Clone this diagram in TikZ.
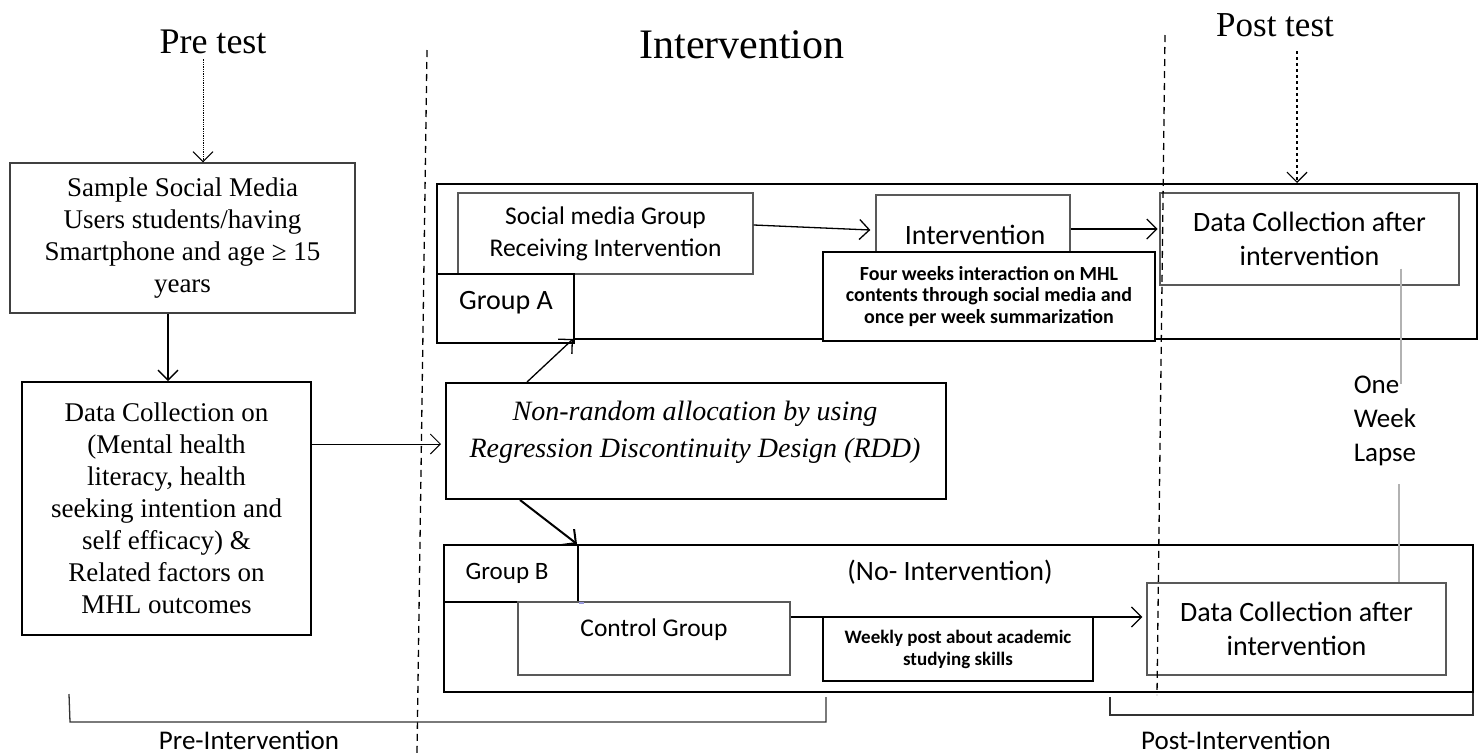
\documentclass[tikz,border=0pt]{standalone}
\usepackage{fontspec}
\setmainfont{Liberation Serif}
\newfontfamily\calib{Carlito}
\usetikzlibrary{arrows.meta,calc}
\begin{document}
\begin{tikzpicture}[x=1pt,y=-1pt,
  thickbox/.style={draw, line width=2pt, inner sep=0pt, fill=white},
  thinbox/.style={draw=black!65, line width=1.3pt, inner sep=0pt, fill=white},
  arr/.style={-{Straight Barb[length=10pt,width=20pt]}, line width=1.3pt},
  tnr/.style={font=\fontsize{27}{32}\selectfont, align=center},
  cal/.style={font=\calib\fontsize{26}{32}\selectfont, align=center},
  calb/.style={font=\calib\bfseries\fontsize{20}{21.5}\selectfont, align=center},
  title/.style={font=\fontsize{36}{40}\selectfont},
  phase/.style={line width=1.3pt, dash pattern=on 7pt off 5pt},
  lapseline/.style={draw=black!30, line width=1.5pt},
  bracket/.style={line width=1.3pt, draw=black!80}]
\useasboundingbox (0,0) rectangle (1483,753);

% titles
\node[title] (pretest) at (213,42) {Pre test};
\node[font=\fontsize{42}{46}\selectfont] (intvtitle) at (742,45) {Intervention};
\node[font=\fontsize{35}{40}\selectfont] (posttest) at (1275,25) {Post test};

% left column
\node[thinbox, draw=black!75, minimum width=345pt, minimum height=150pt, tnr] (s1) at (182.5,238)
  {Sample Social Media\\Users students/having\\Smartphone and age ≥ 15\\years};
\node[thickbox, minimum width=289pt, minimum height=253pt, tnr] (s2) at (166.5,508.5)
  {Data Collection on\\(Mental health\\literacy, health\\seeking intention and\\self efficacy) \&\\Related factors on\\MHL outcomes};

% group A
\node[thickbox, fill=none, minimum width=1040pt, minimum height=155pt] (ga) at (957,261.5) {};
\node[thinbox, minimum width=295pt, minimum height=81pt, cal, font=\calib\fontsize{25.5}{32}\selectfont] (smg) at (605.5,233.5)
  {Social media Group\\Receiving Intervention};
\node[thickbox, minimum width=137pt, minimum height=69pt] (gA) at (505.5,308.5) {};
\node[cal, font=\calib\fontsize{28}{30}\selectfont] (gAt) at (506,303) {Group A};
\node[thinbox, minimum width=194pt, minimum height=60pt] (intv) at (973,225) {};
\node[cal, font=\calib\fontsize{28}{30}\selectfont] (intvt) at (975,235) {Intervention};
\node[thickbox, minimum width=332pt, minimum height=89pt, calb] (four) at (989,296.5)
  {Four weeks interaction on MHL\\contents through social media and\\once per week summarization};
\node[thinbox, minimum width=299pt, minimum height=92pt, cal, font=\calib\fontsize{28}{34}\selectfont] (dataA) at (1309.5,239)
  {Data Collection after\\intervention};

% RDD
\node[thickbox, minimum width=500pt, minimum height=116pt] (rdd) at (696,441) {};
\node[font=\itshape\fontsize{28}{37}\selectfont, align=center] (rddt) at (695,432)
  {Non-random allocation by using\\Regression Discontinuity Design (RDD)};

% group B
\node[thickbox, fill=none, minimum width=1029pt, minimum height=147pt] (gb) at (958.5,618.5) {};
\node[thickbox, minimum width=134pt, minimum height=57pt] (gB) at (511,573.5) {};
\node[cal, font=\calib\fontsize{25}{30}\selectfont] (gBt) at (507,573) {Group B};
\node[thinbox, minimum width=272pt, minimum height=73pt] (ctrl) at (654,638.5) {};
\node[cal, font=\calib\fontsize{25.5}{30}\selectfont] (ctrlt) at (654,630) {Control Group};
\node[cal, font=\calib\fontsize{28}{30}\selectfont] (noint) at (950,572) {(No- Intervention)};
\node[thickbox, minimum width=270pt, minimum height=64pt, calb, font=\calib\bfseries\fontsize{19}{22}\selectfont] (weekly) at (958,649)
  {Weekly post about academic\\studying skills};
\node[thinbox, minimum width=299pt, minimum height=92pt, cal, font=\calib\fontsize{28}{34}\selectfont] (dataB) at (1296.5,629)
  {Data Collection after\\intervention};
\draw[draw=black!35!blue!40, line width=1.2pt] (gB.south east) -- ++(5,0);

% lapse
\node[cal, align=left, font=\calib\fontsize{27}{34}\selectfont] (lapse) at (1385,421) {One\\Week\\Lapse};
\draw[lapseline] ($(dataA.south)+(91.5,-17)$) -- ($(lapse.north)+(16,11)$);
\draw[lapseline] ($(lapse.south)+(14,15)$) -- ($(dataB.north)+(102.5,0)$);

% connectors
\coordinate (pa) at ($(pretest.south)+(-10,2)$);
\coordinate (pb) at ($(posttest.south)+(22,11)$);
\draw[arr, densely dotted, line width=1pt] (pa) -- (pa |- s1.north);
\draw[arr] (s1.south -| 168,0) -- (s2.north -| 168,0);
\draw[arr, line width=1pt] ($(s2.east)+(0,-64.5)$) -- ($(rdd.west)+(-4,3)$);
\draw[arr] ($(rdd.north)+(-169,0)$) -- ($(gA.south east)+(-2,-5)$);
\draw[arr, line width=2pt] ($(rdd.south)+(-176,0)$) -- ($(gB.north east)+(-2,0)$);
\draw[arr] ($(smg.east)+(0,-8.5)$) -- ($(intv.west)+(-5,5)$);
\draw[arr] ($(intv.east)+(0,4)$) -- ($(intv.east)+(87,4)$);
\draw[arr] ($(ctrl.east)+(0,-21.5)$) -- ($(dataB.west)+(-4,-12)$);
\draw[arr, dashed, line width=1.2pt] (pb) -- (pb |- ga.north);

% phase separators
\coordinate (d1t) at (427,50);
\coordinate (d1b) at (417,753);
\coordinate (d2t) at (1165,35);
\coordinate (d2b) at (1157,695);
\draw[phase] (d1t) -- (d1b);
\draw[phase] (d2t) -- (d2b);

% brackets
\draw[bracket] (69,694) -- (70,722) -- (826,722) -- (826,697);
\node[cal, font=\calib\fontsize{27}{30}\selectfont, anchor=base] (pre) at (249,749) {Pre-Intervention};
\draw[bracket] (1110,697) -- (1110,715) -- (1473,715) -- (1473,693);
\node[cal, font=\calib\fontsize{27}{30}\selectfont, anchor=base] (post) at (1236,749) {Post-Intervention};
\end{tikzpicture}
\end{document}
